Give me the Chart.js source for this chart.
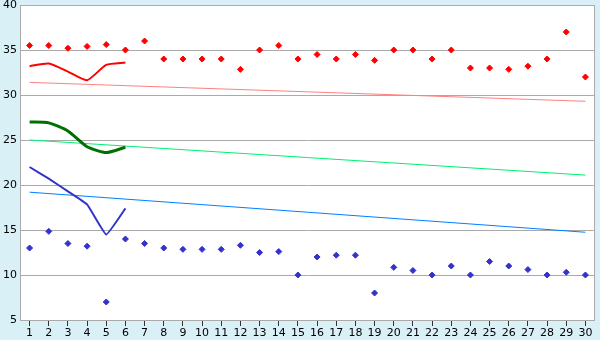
<!DOCTYPE html>
<html>
<head>
<meta charset="utf-8">
<style>
  html, body { margin: 0; padding: 0; background: #daf0f7; }
  canvas { display: block; }
</style>
<script src="https://cdn.jsdelivr.net/npm/chart.js@4/dist/chart.umd.min.js"></script>
</head>
<body>
<canvas id="myChart" width="600" height="340"></canvas>
<script>
// values

var days = [];
for (var d = 1; d <= 30; d++) days.push(String(d));

var redPoints = [35.5, 35.5, 35.2, 35.4, 35.6, 35.0, 36.0, 34.0, 34.0, 34.0,
                 34.0, 32.85, 35.0, 35.5, 34.0, 34.5, 34.0, 34.5, 33.85, 35.0,
                 35.0, 34.0, 35.0, 33.0, 33.0, 32.85, 33.2, 34.0, 37.0, 32.0];

var bluePoints = [13.0, 14.85, 13.5, 13.2, 7.0, 14.0, 13.5, 13.0, 12.85, 12.85,
                  12.85, 13.3, 12.5, 12.6, 10.0, 12.0, 12.2, 12.2, 8.0, 10.85,
                  10.5, 10.0, 11.0, 10.0, 11.5, 11.0, 10.6, 10.0, 10.3, 10.0];

var redCurve = [33.2, 33.5, 32.6, 31.65, 33.35, 33.6];
var greenCurve = [27.0, 26.9, 26.0, 24.25, 23.6, 24.2];
var blueCurve = [22.0, 20.7, 19.3, 17.85, 14.5, 17.4];

// trend lines: value at day 1 and day 30
var redTrend = [31.4, 29.3];
var greenTrend = [25.0, 21.1];
var blueTrend = [19.2, 14.75];

function ends(pair) {
  var arr = [];
  for (var i = 0; i < days.length; i++) arr.push(null);
  arr[0] = pair[0];
  arr[days.length - 1] = pair[1];
  return arr;
}

var plotBack = {
  id: 'plotBack',
  beforeDraw: function(chart) {
    var c = chart.ctx, a = chart.chartArea;
    c.save();
    c.fillStyle = '#daf0f7';
    c.fillRect(0, 0, chart.width, chart.height);
    c.fillStyle = '#ffffff';
    c.fillRect(a.left, a.top, a.right - a.left, a.bottom - a.top);
    c.restore();
  },
  afterDatasetsDraw: function(chart) {
    var c = chart.ctx, a = chart.chartArea;
    c.save();
    c.strokeStyle = '#aaaaaa';
    c.lineWidth = 1;
    c.strokeRect(a.left + 0.5, a.top + 0.5, a.right - a.left - 1, a.bottom - a.top);
    c.restore();
  }
};

var canvas = document.getElementById("myChart");
var myChart = new Chart(canvas, {
  type: 'line',
  data: {
    labels: days,
    datasets: [
      { data: ends(redTrend), borderColor: '#ff8080', borderWidth: 1, pointRadius: 0, spanGaps: true, order: 9 },
      { data: ends(greenTrend), borderColor: '#00f070', borderWidth: 1, pointRadius: 0, spanGaps: true, order: 9 },
      { data: ends(blueTrend), borderColor: '#0080ff', borderWidth: 1, pointRadius: 0, spanGaps: true, order: 9 },
      { data: redCurve, borderColor: '#ff0000', borderWidth: 2, pointRadius: 0, tension: 0.2, order: 5 },
      { data: greenCurve, borderColor: '#007000', borderWidth: 3, pointRadius: 0, tension: 0.2, order: 5 },
      { data: blueCurve, borderColor: '#3333cc', borderWidth: 2, pointRadius: 0, tension: 0.1, order: 5 },
      { data: redPoints, showLine: false, pointStyle: 'rectRot', pointRadius: 3,
        backgroundColor: '#ff0000', borderColor: '#ff0000', borderWidth: 1, order: 1 },
      { data: bluePoints, showLine: false, pointStyle: 'rectRot', pointRadius: 3,
        backgroundColor: '#3333cc', borderColor: '#3333cc', borderWidth: 1, order: 1 }
    ]
  },
  options: {
    responsive: false,
    animation: false,
    devicePixelRatio: 1,
    layout: { padding: { top: 5, right: 5, left: 0, bottom: 0 } },
    plugins: { legend: { display: false }, tooltip: { enabled: false } },
    scales: {
      x: {
        offset: true,
        grid: { display: true, drawOnChartArea: false, drawTicks: true, tickLength: 6, color: '#333333', offset: false },
        border: { display: false },
        ticks: { color: '#000000', font: { family: 'DejaVu Sans', size: 11 }, padding: 1, maxRotation: 0, autoSkip: false },
        afterFit: function(scale) { scale.height = 20; scale.paddingLeft = 0; scale.paddingRight = 0; }
      },
      y: {
        min: 5,
        max: 40,
        grid: { color: '#aaaaaa', lineWidth: 1, drawTicks: false },
        border: { display: false },
        ticks: { stepSize: 5, color: '#000000', font: { family: 'DejaVu Sans', size: 11 }, padding: 3 },
        afterFit: function(scale) { scale.width = 20; scale.paddingTop = 0; scale.paddingBottom = 0; }
      }
    }
  },
  plugins: [plotBack]
});
</script>
</body>
</html>
